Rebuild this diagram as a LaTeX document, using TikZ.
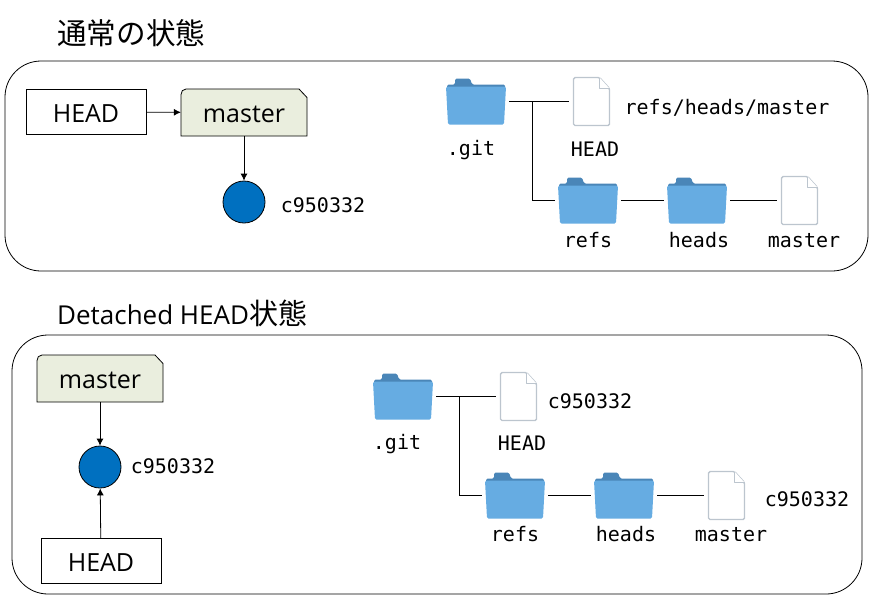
\documentclass[tikz,border=0pt]{standalone}
\usepackage{fontspec}
\usetikzlibrary{arrows.meta}
\setmainfont{Open Sans}
\setmonofont{DejaVu Sans Mono}
\newfontfamily\cjkfont{Noto Sans CJK JP}
\definecolor{tagfill}{HTML}{EAEEDE}
\definecolor{commitfill}{HTML}{0070C0}
\definecolor{folderfront}{HTML}{66ACE2}
\definecolor{folderback}{HTML}{4A86B8}
\definecolor{fileedge}{HTML}{BCC5CE}
\newcommand{\lowertext}[1]{\raisebox{-2pt}[\height][\depth]{#1}}
\tikzset{
	panel/.style = {draw, line width=0.8pt, rounded corners=36pt},
	refbox/.style = {draw, line width=0.8pt, minimum width=120pt, minimum height=45pt, inner sep=0pt, font=\fontsize{25}{30}\selectfont},
	tagtext/.style = {minimum width=126pt, minimum height=47pt, inner sep=0pt, font=\fontsize{25}{30}\selectfont},
	commit/.style = {circle, draw, line width=0.8pt, fill=commitfill, minimum size=42pt, inner sep=0pt},
	foldericon/.style = {minimum width=60pt, minimum height=45pt, inner sep=0pt, outer sep=3pt},
	fileicon/.style = {minimum width=37pt, minimum height=48pt, inner sep=0pt, outer sep=4pt},
	monolabel/.style = {inner sep=0pt, font=\ttfamily\fontsize{20}{24}\selectfont},
	titletext/.style = {anchor=west, inner sep=0pt, font=\fontsize{26}{32}\selectfont},
	link/.style = {line width=0.8pt},
	pointer/.style = {line width=0.8pt, -{Latex[length=7pt,width=7pt]}}
}
\begin{document}
\begin{tikzpicture}[
		x=1pt, y=-1pt,
		folder/.pic = {
			\fill[folderback, rounded corners=1.5pt] (-21,-23) -- (-6,-23) -- (-4,-17) -- (29,-17) -- (29,-10) -- (-29,-10) -- (-29,-17) -- (-21,-17) -- cycle;
			\fill[folderfront, rounded corners=1.5pt] (-30,-15) -- (30,-15) -- (28,23) -- (-28,23) -- cycle;
		},
		docfile/.pic = {
			\draw[fileedge, line width=1.4pt, fill=white, rounded corners=1.5pt] (-18,-24) -- (8,-24) -- (18,-13) -- (18,24) -- (-18,24) -- cycle;
			\draw[fileedge, line width=1.4pt, fill=white, line join=round] (8,-24) -- (8,-13) -- (18,-13);
		},
		branchtag/.pic = {
			\draw[line width=0.8pt, fill=tagfill] (-63,23.5) -- (-63,-18) .. controls (-63,-21) and (-61,-23.5) .. (-58,-23.5) -- (55,-23.5) -- (63,-15) -- (63,23.5) -- cycle;
		}
	]
	\useasboundingbox (0,0) rectangle (874,603);
	\node[titletext] (titleA) at (57,33) {\cjkfont\fontsize{29.6}{32}\selectfont 通常の状態};
	\node[titletext] (titleB) at (57,313.5) {Detached HEAD{\cjkfont\fontsize{29}{32}\selectfont 状態}};
	\draw[panel] (5,61) rectangle (868,271);
	\draw[panel] (12,335) rectangle (862,594);
	% normal state
	\node[refbox] (headA) at (86,112) {\lowertext{HEAD}};
	\pic at (244,112.5) {branchtag};
	\node[tagtext] (masterA) at (244,112.5) {\lowertext{master}};
	\node[commit] (commitA) at (244,202) {};
	\node[monolabel] (hashA) at (323,205) {c950332};
	\draw[pointer] (headA) -- (masterA);
	\draw[pointer] (masterA) -- (commitA);
	% detached state
	\pic at (100,378.5) {branchtag};
	\node[tagtext] (masterB) at (100,378.5) {\lowertext{master}};
	\node[commit] (commitB) at (100,467) {};
	\node[refbox] (headB) at (101,561) {\lowertext{HEAD}};
	\node[monolabel] (hashB) at (173,466) {c950332};
	\draw[pointer] (masterB) -- (commitB);
	\draw[pointer] (headB) -- (commitB);
	% tree of the normal state
	\begin{scope}[shift={(476,101.5)}]
		\node[foldericon] (gitA) at (0,0) {};
		\node[fileicon] (headfileA) at (115.5,0) {};
		\node[foldericon] (refsA) at (112,99) {};
		\node[foldericon] (headsA) at (221,99) {};
		\node[fileicon] (masterfileA) at (323.5,99) {};
		\pic at (gitA) {folder};
		\pic at (headfileA) {docfile};
		\pic at (refsA) {folder};
		\pic at (headsA) {folder};
		\pic at (masterfileA) {docfile};
		\coordinate (forkA) at (56,0);
		\draw[link] (gitA) -- (headfileA);
		\draw[link] (forkA) |- (refsA);
		\draw[link] (refsA) -- (headsA);
		\draw[link] (headsA) -- (masterfileA);
		\node[monolabel] (gitlabelA) at (-5,49) {.git};
		\node[monolabel] (headlabelA) at (119,48) {HEAD};
		\node[monolabel] (contentA) at (251,6) {refs/heads/master};
		\node[monolabel] (refslabelA) at (112,139) {refs};
		\node[monolabel] (headslabelA) at (223,139) {heads};
		\node[monolabel] (masterlabelA) at (328,139) {master};
	\end{scope}
	% tree of the detached state
	\begin{scope}[shift={(403,396.5)}]
		\node[foldericon] (gitB) at (0,0) {};
		\node[fileicon] (headfileB) at (115.5,0) {};
		\node[foldericon] (refsB) at (112,99) {};
		\node[foldericon] (headsB) at (221,99) {};
		\node[fileicon] (masterfileB) at (323.5,99) {};
		\pic at (gitB) {folder};
		\pic at (headfileB) {docfile};
		\pic at (refsB) {folder};
		\pic at (headsB) {folder};
		\pic at (masterfileB) {docfile};
		\coordinate (forkB) at (56,0);
		\draw[link] (gitB) -- (headfileB);
		\draw[link] (forkB) |- (refsB);
		\draw[link] (refsB) -- (headsB);
		\draw[link] (headsB) -- (masterfileB);
		\node[monolabel] (gitlabelB) at (-6,48) {.git};
		\node[monolabel] (headlabelB) at (119,47) {HEAD};
		\node[monolabel] (contentB) at (187,5) {c950332};
		\node[monolabel] (refslabelB) at (112,138) {refs};
		\node[monolabel] (headslabelB) at (223,138) {heads};
		\node[monolabel] (masterlabelB) at (328,138) {master};
		\node[monolabel] (hashfileB) at (404,103) {c950332};
	\end{scope}
\end{tikzpicture}
\end{document}
